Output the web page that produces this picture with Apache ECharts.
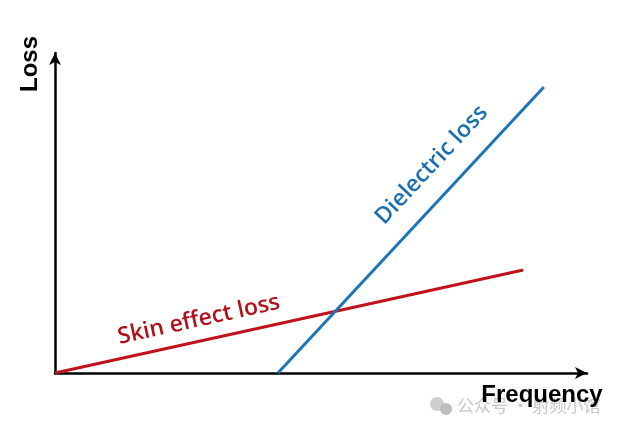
<!DOCTYPE html>
<html><head><meta charset="utf-8">
<script src="https://cdn.jsdelivr.net/npm/echarts@6/dist/echarts.min.js"></script>
<style>html,body{margin:0;padding:0;background:#fff}#c{width:621px;height:431px}</style>
</head><body><div id="c"></div>
<script>
var skinLoss = [[0, 0], [88.0, 32.2]];
var dielectricLoss = [[41.9, 0], [91.9, 89.4]];
var xName = 'Frequency';
var yName = 'Loss';
var skinLabel = 'Skin effect loss';
var dielLabel = 'Dielectric loss';
var watermark = '公众号 · 射频小馆';

var chart = echarts.init(document.getElementById('c'));
var axisLine = {show: true, lineStyle: {color: '#000', width: 2.5}, symbol: ['none', 'arrow'], symbolSize: [9, 12]};
chart.setOption({
  animation: false,
  grid: {left: 55, right: 34, top: 53, bottom: 58},
  xAxis: {type: 'value', min: 0, max: 100, axisLine: axisLine, axisTick: {show: false}, axisLabel: {show: false}, splitLine: {show: false}},
  yAxis: {type: 'value', min: 0, max: 100, axisLine: axisLine, axisTick: {show: false}, axisLabel: {show: false}, splitLine: {show: false}},
  series: [
    {type: 'line', data: skinLoss, symbol: 'none', lineStyle: {color: '#c0121c', width: 3}},
    {type: 'line', data: dielectricLoss, symbol: 'none', lineStyle: {color: '#1b75b8', width: 3}}
  ]
});

function mid(a, t) { return [a[0][0] + (a[1][0] - a[0][0]) * t, a[0][1] + (a[1][1] - a[0][1]) * t]; }
function ang(a) {
  var p0 = chart.convertToPixel({gridIndex: 0}, a[0]);
  var p1 = chart.convertToPixel({gridIndex: 0}, a[1]);
  return Math.atan2(-(p1[1] - p0[1]), p1[0] - p0[0]);
}
function labelAt(a, t, off, txt, color) {
  var p = chart.convertToPixel({gridIndex: 0}, mid(a, t));
  var r = ang(a);
  var px = p[0] - Math.sin(r) * off, py = p[1] - Math.cos(r) * off;
  return {type: 'text', x: px, y: py, rotation: r, z: 10,
    style: {text: txt, fill: color, font: '600 23px "Open Sans", sans-serif', align: 'center', verticalAlign: 'middle'}};
}
var o = chart.convertToPixel({gridIndex: 0}, [0, 0]);
chart.setOption({
  graphic: [
    {type: 'circle', shape: {cx: 437, cy: 404, r: 7}, style: {fill: '#cfcfcf'}, z: 1},
    {type: 'circle', shape: {cx: 446, cy: 409, r: 6}, style: {fill: '#bdbdbd'}, z: 1},
    {type: 'text', x: 457, y: 406, z: 1,
      style: {text: watermark, fill: '#c8c8c8', font: '17px "Noto Sans CJK SC", sans-serif', align: 'left', verticalAlign: 'middle'}},
    labelAt(skinLoss, 0.317, 21, skinLabel, '#b0121b'),
    labelAt(dielectricLoss, 0.658, 29, dielLabel, '#1b6fae'),
    {type: 'text', x: 30, y: 64, rotation: Math.PI / 2, z: 10,
      style: {text: yName, fill: '#000', font: 'bold 24px "Liberation Sans", Arial, sans-serif', align: 'center', verticalAlign: 'middle'}},
    {type: 'text', x: 542, y: 395, z: 10,
      style: {text: xName, fill: '#000', font: 'bold 24px "Liberation Sans", Arial, sans-serif', align: 'center', verticalAlign: 'middle'}}
  ]
});
</script></body></html>
